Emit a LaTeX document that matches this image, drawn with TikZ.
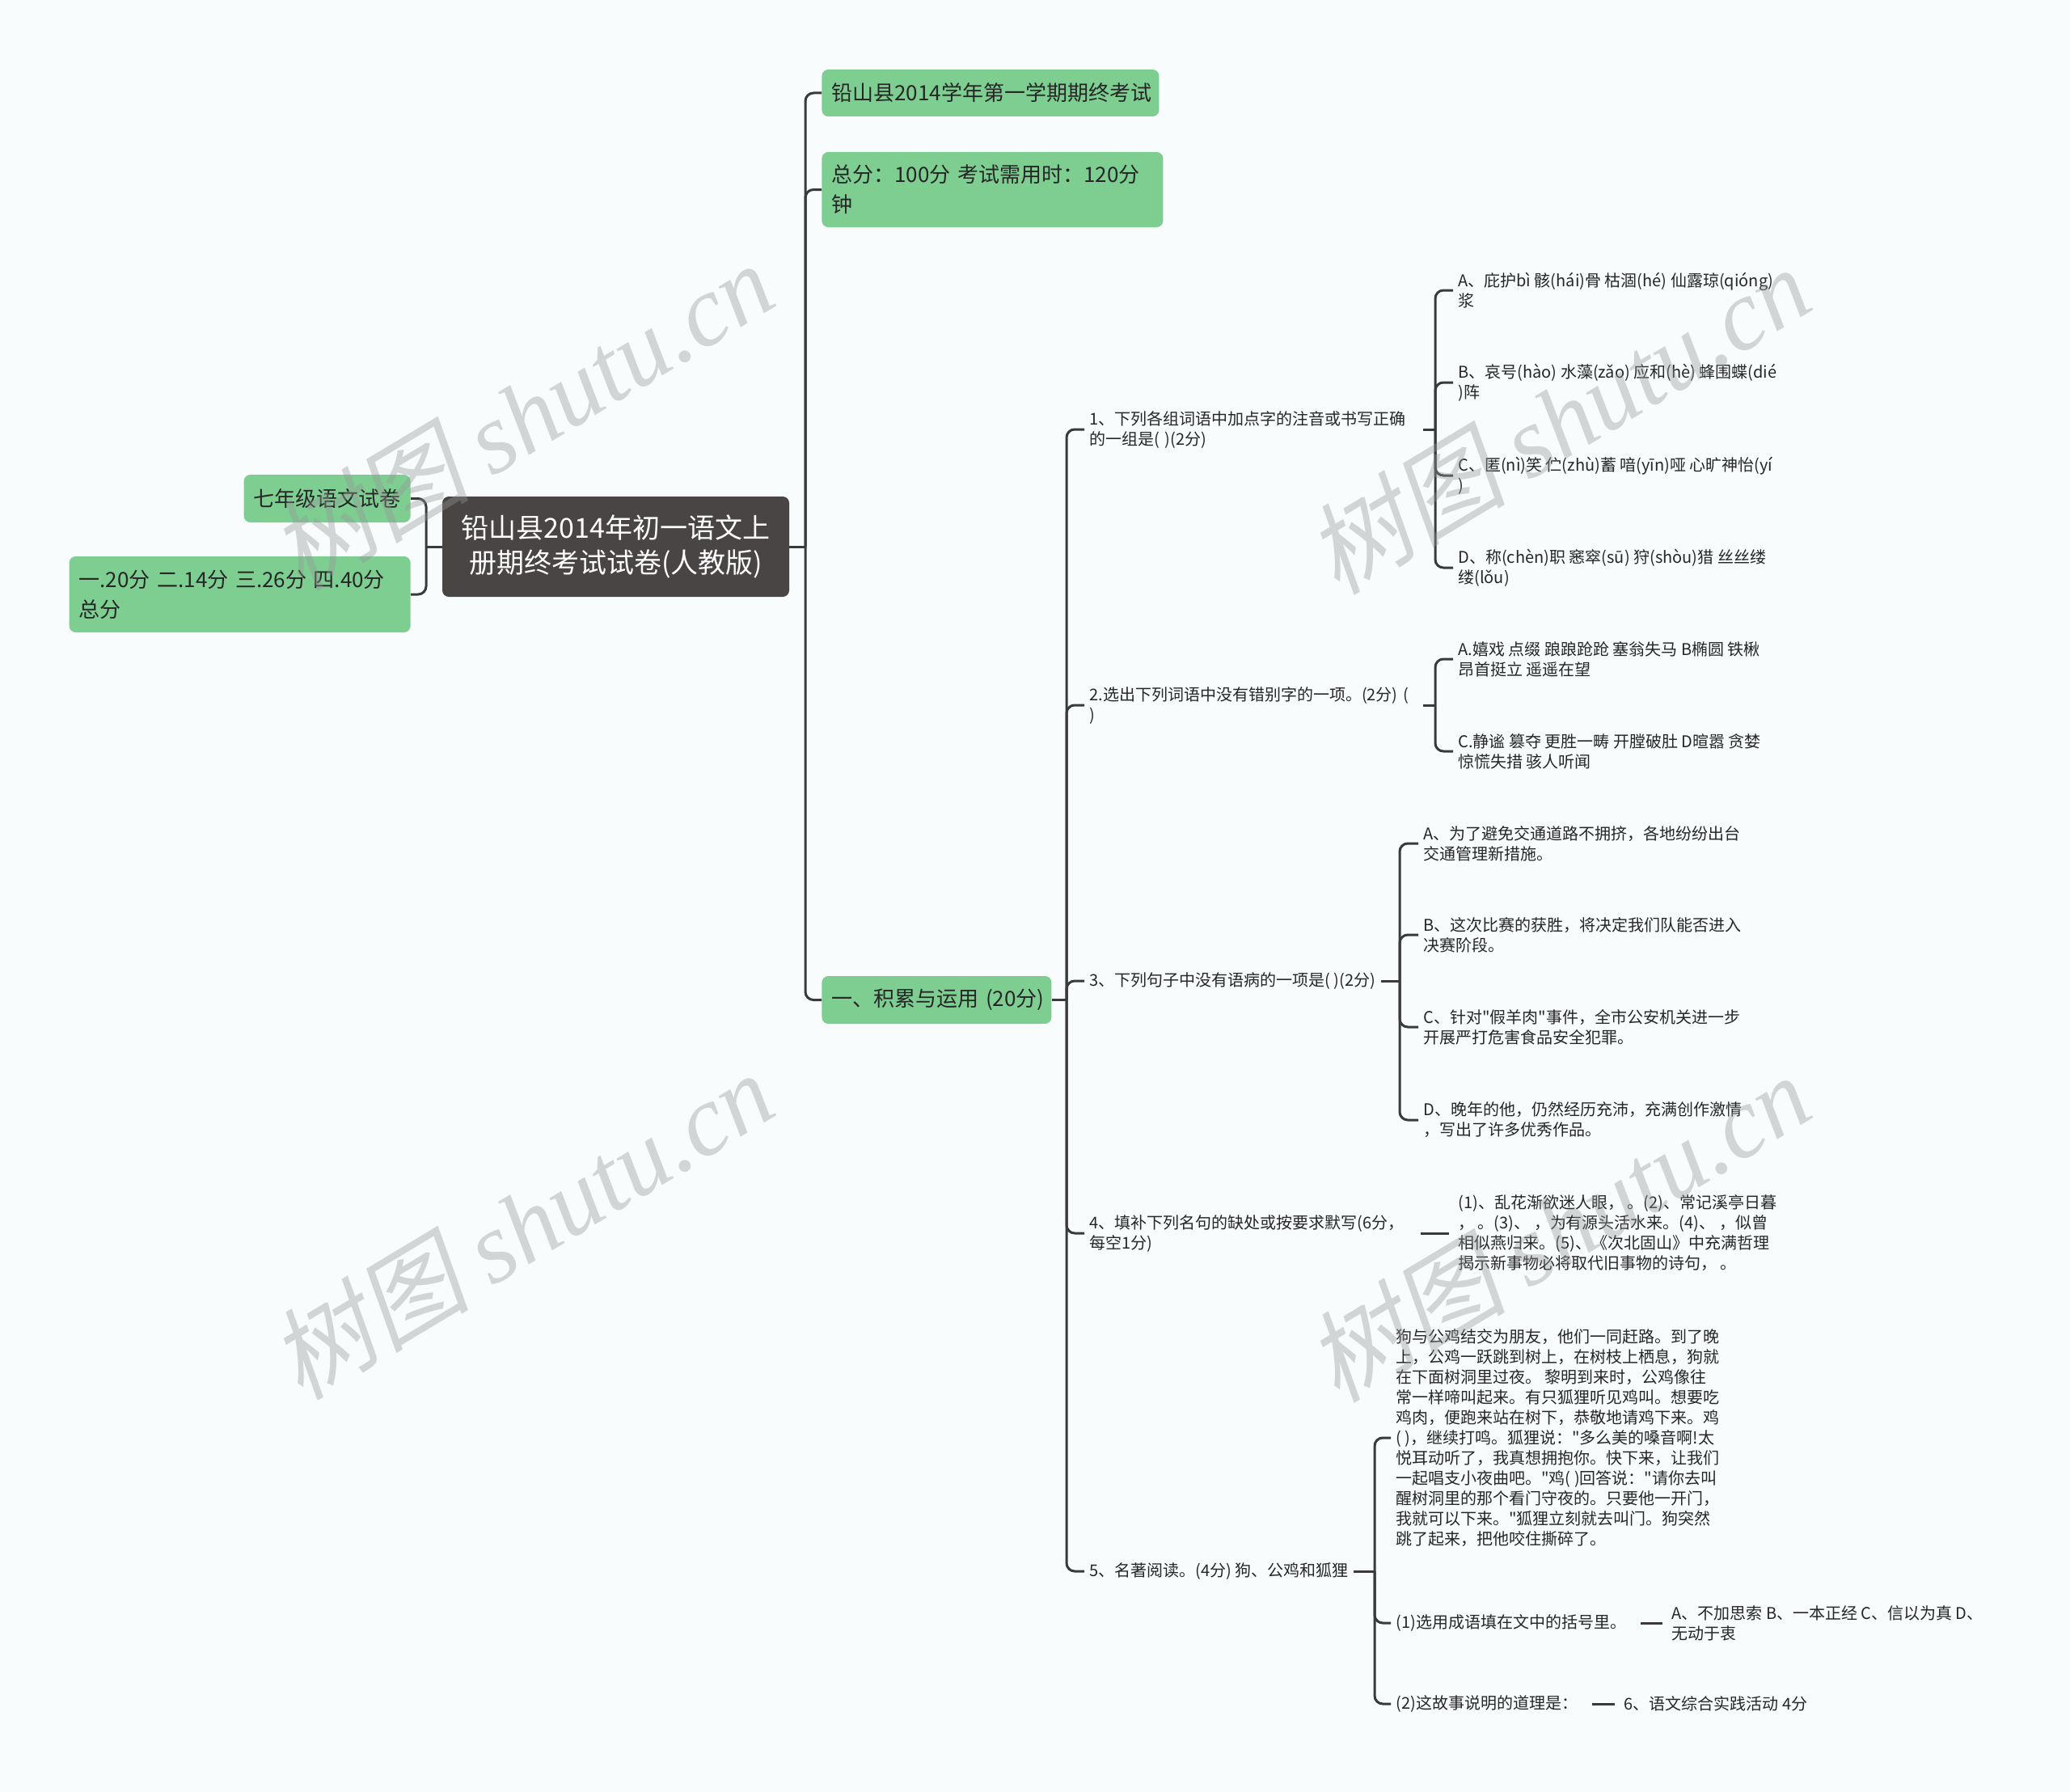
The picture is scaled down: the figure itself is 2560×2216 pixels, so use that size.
\documentclass[tikz,border=0pt]{standalone}
\usepackage{fontspec}
\setmainfont{Noto Sans CJK SC}
\newfontfamily\mapfont{Noto Sans CJK SC}
\newfontfamily\wmserif{Liberation Serif}
\newfontfamily\wmcjk[FakeSlant=0.2]{Noto Sans CJK SC}
\definecolor{bgColor}{RGB}{248,252,253}
\definecolor{lineColor}{RGB}{58,58,58}
\definecolor{rootColor}{RGB}{74,69,69}
\definecolor{greenColor}{RGB}{126,206,146}
\definecolor{textColor}{RGB}{38,38,38}
\definecolor{markColor}{RGB}{150,150,150}
\tikzset{
  conn/.style={draw=lineColor,line width=1.5pt},
  elbowconn/.style={conn,rounded corners=5pt},
  straightconn/.style={conn,shorten <=6pt,shorten >=2.5pt},
  rootbox/.style={fill=rootColor,rounded corners=4pt,text=white,font=\mapfont\fontsize{17}{21.5}\selectfont,
    align=center,minimum width=214.5pt,minimum height=62pt,inner sep=0pt},
  greenbox/.style={fill=greenColor,rounded corners=4pt,text=textColor,font=\mapfont\fontsize{13}{18.5}\selectfont,
    align=left,inner xsep=6pt,inner ysep=2pt,anchor=west},
  leaf/.style={text=textColor,font=\mapfont\fontsize{10}{12.5}\selectfont,align=left,inner xsep=3pt,inner ysep=1pt,anchor=west},
  wmark/.style={text=markColor,text opacity=0.38,rotate=31,font=\fontsize{62}{70}\selectfont,inner sep=0pt}
}
\begin{document}
\begin{tikzpicture}[x=0.5pt,y=-0.5pt]
\path[use as bounding box,fill=bgColor] (0,0) rectangle (2560,2216);

% central topic and the two short notes on its left
\node[rootbox] (root) at (761.5,676) {铅山县2014年初一语文上\\册期终考试试卷(人教版)};
\node[greenbox,anchor=east,align=center,minimum width=101.5pt,minimum height=29.5pt] (grade) at (508,616.5) {七年级语文试卷};
\node[greenbox,anchor=east,text width=199pt,minimum height=47pt] (scores) at (508,735) {一.20分 二.14分 三.26分 四.40分\\总分};

% main branches
\node[greenbox,text width=196.5pt,minimum height=29pt] (exam) at (1016,115) {铅山县2014学年第一学期期终考试};
\node[greenbox,text width=199pt,minimum height=46.5pt] (total) at (1016,234.5) {总分：100分 考试需用时：120分\\钟};
\node[greenbox,text width=136pt,inner xsep=3pt,minimum height=29.5pt] (part1) at (1016,1236.5) {\hspace{3pt}一、积累与运用 (20分)};

% questions
\node[leaf,text width=203pt] (q1) at (1341,531) {1、下列各组词语中加点字的注音或书写正确\\的一组是( )(2分)};
\node[leaf,text width=203pt] (q2) at (1341,872) {2.选出下列词语中没有错别字的一项。(2分) (\\)};
\node[leaf] (q3) at (1341,1213) {3、下列句子中没有语病的一项是( )(2分)};
\node[leaf,text width=195.5pt] (q4) at (1341,1525) {4、填补下列名句的缺处或按要求默写(6分，\\每空1分)};
\node[leaf] (q5) at (1341,1943) {5、名著阅读。(4分) 狗、公鸡和狐狸};

\node[leaf] (q1a) at (1797,359) {A、庇护bì 骸(hái)骨 枯涸(hé) 仙露琼(qióng)\\浆};
\node[leaf] (q1b) at (1797,473) {B、哀号(hào) 水藻(zǎo) 应和(hè) 蜂围蝶(dié\\)阵};
\node[leaf] (q1c) at (1797,588) {C、匿(nì)笑 伫(zhù)蓄 喑(yīn)哑 心旷神怡(yí\\)};
\node[leaf] (q1d) at (1797,702) {D、称(chèn)职 窸窣(sū) 狩(shòu)猎 丝丝缕\\缕(lǒu)};

\node[leaf] (q2a) at (1797,815) {A.嬉戏 点缀 踉踉跄跄 塞翁失马 B椭圆 铁楸\\昂首挺立 遥遥在望};
\node[leaf] (q2c) at (1797,929) {C.静谧 篡夺 更胜一畴 开膛破肚 D暄嚣 贪婪\\惊慌失措 骇人听闻};

\node[leaf] (q3a) at (1754,1043) {A、为了避免交通道路不拥挤，各地纷纷出台\\交通管理新措施。};
\node[leaf] (q3b) at (1754,1156) {B、这次比赛的获胜，将决定我们队能否进入\\决赛阶段。};
\node[leaf] (q3c) at (1754,1270) {C、针对"假羊肉"事件，全市公安机关进一步\\开展严打危害食品安全犯罪。};
\node[leaf] (q3d) at (1754,1385) {D、晚年的他，仍然经历充沛，充满创作激情\\，写出了许多优秀作品。};

\node[leaf] (q4a) at (1797,1525) {(1)、乱花渐欲迷人眼，\ 。(2)、常记溪亭日暮\\，\ 。(3)、\ ，为有源头活水来。(4)、\ ，似曾\\相似燕归来。(5)、《次北固山》中充满哲理\\揭示新事物必将取代旧事物的诗句，\ 。};

\node[leaf] (story) at (1720,1778) {狗与公鸡结交为朋友，他们一同赶路。到了晚\\上，公鸡一跃跳到树上，在树枝上栖息，狗就\\在下面树洞里过夜。 黎明到来时，公鸡像往\\常一样啼叫起来。有只狐狸听见鸡叫。想要吃\\鸡肉，便跑来站在树下，恭敬地请鸡下来。鸡\\( )，继续打鸣。狐狸说："多么美的嗓音啊!太\\悦耳动听了，我真想拥抱你。快下来，让我们\\一起唱支小夜曲吧。"鸡( )回答说："请你去叫\\醒树洞里的那个看门守夜的。只要他一开门，\\我就可以下来。"狐狸立刻就去叫门。狗突然\\跳了起来，把他咬住撕碎了。};
\node[leaf] (s1) at (1720,2007) {(1)选用成语填在文中的括号里。};
\node[leaf] (s2) at (1720,2107) {(2)这故事说明的道理是：};
\node[leaf] (s1a) at (2061,2007) {A、不加思索 B、一本正经 C、信以为真 D、\\无动于衷};
\node[leaf] (s2a) at (2002,2107) {6、语文综合实践活动 4分};

% connectors
\coordinate (rootR) at (root.east -| 996,0);
\coordinate (rootL) at (root.west -| 527,0);
\draw[conn] (root.east) -- (rootR);
\draw[conn] (root.west) -- (rootL);
\foreach \n in {exam,total,part1} \draw[elbowconn] (rootR) |- (\n.west);
\foreach \n in {grade,scores} \draw[elbowconn] (rootL) |- (\n.east);

\coordinate (part1T) at (part1.east -| 1319,0);
\draw[conn] (part1.east) -- (part1T);
\foreach \n in {q1,q2,q3,q4,q5} \draw[elbowconn] (part1T) |- (\n.west);

\coordinate (q1T) at (q1.east -| 1775,0);
\draw[conn] (q1.east) -- (q1T);
\foreach \n in {q1a,q1b,q1c,q1d} \draw[elbowconn] (q1T) |- (\n.west);

\coordinate (q2T) at (q2.east -| 1775,0);
\draw[conn] (q2.east) -- (q2T);
\foreach \n in {q2a,q2c} \draw[elbowconn] (q2T) |- (\n.west);

\coordinate (q3T) at (q3.east -| 1731,0);
\draw[conn] (q3.east) -- (q3T);
\foreach \n in {q3a,q3b,q3c,q3d} \draw[elbowconn] (q3T) |- (\n.west);

\draw[straightconn] (q4.east) -- (q4a.west);

\coordinate (q5T) at (q5.east -| 1700,0);
\draw[conn] (q5.east) -- (q5T);
\foreach \n in {story,s1,s2} \draw[elbowconn] (q5T) |- (\n.west);

\draw[straightconn] (s1.east) -- (s1a.west);
\draw[straightconn] (s2.east) -- (s2a.west);

% watermark
\foreach \wx/\wy [count=\i] in {645/514,1927/519,645/1515,1927/1518}
  \node[wmark] (wm\i) at (\wx,\wy) {\wmcjk 树图 \wmserif\itshape shutu.cn};
\end{tikzpicture}
\end{document}
